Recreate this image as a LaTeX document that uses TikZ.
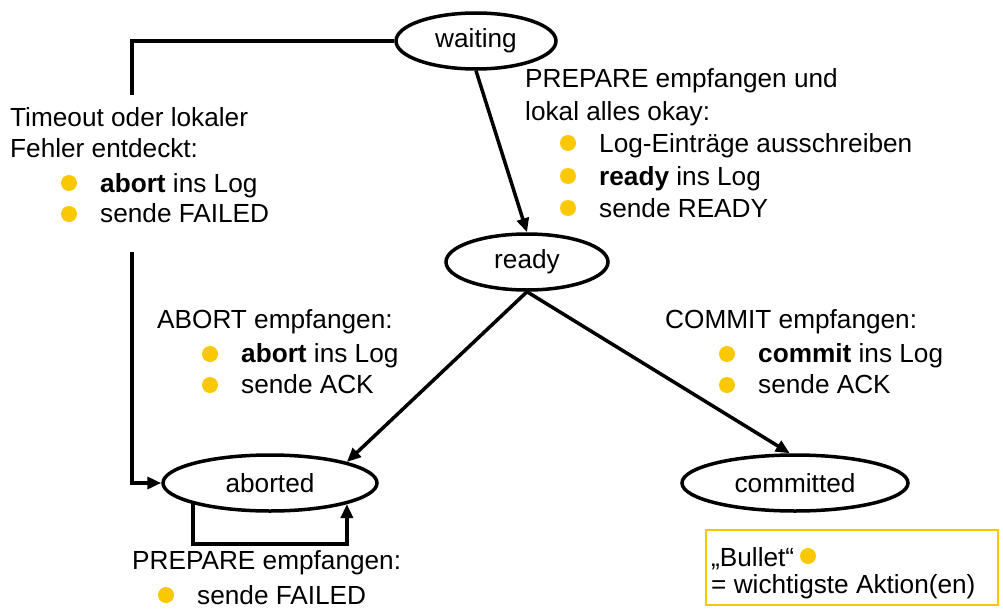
\documentclass[tikz,border=0pt]{standalone}
\usepackage{fontspec}
\setmainfont{Liberation Sans}
\usetikzlibrary{arrows.meta,shapes.geometric}
\definecolor{bulletyellow}{RGB}{250,200,0}
\tikzset{
  txt/.style={anchor=base west,inner sep=0pt,font=\fontsize{26.2}{30}\selectfont},
  state/.style={ellipse,draw,line width=3.5pt,inner sep=0pt,minimum height=56pt,font=\fontsize{26.2}{30}\selectfont},
  bul/.style={circle,fill=bulletyellow,minimum size=16pt,inner sep=0pt},
  conn/.style={line width=3.8pt},
  arr/.style={line width=3.5pt,-{Triangle[length=14pt,width=12pt]}},
}
\begin{document}
\begin{tikzpicture}[x=1pt,y=-1pt]
\useasboundingbox (0,0) rectangle (1003,610);

% states
\node[state,minimum width=160pt] (waiting) at (476,41) {waiting};
\node[state,minimum width=162pt] (ready) at (527,262) {ready};
\node[state,minimum width=214pt] (aborted) at (270,483) {aborted};
\node[state,minimum width=226pt] (committed) at (795,483) {committed};

% timeout path
\coordinate (t1) at (132,95);
\coordinate (t2) at (132,252);
\draw[conn] (waiting.west) -| (t1);
\draw[arr] (t2) |- (aborted.west);

% transitions
\draw[arr] (waiting.south) -- (ready.north);
\draw[arr] (ready.south) -- (aborted.north east);
\draw[arr] (ready.south) -- (committed.100);
\draw[arr] (aborted.south west) -- ++(0,40) -| (aborted.south east);

% left text
\node[txt] (l1) at (10,126) {Timeout oder lokaler};
\node[txt] (l2) at (10,157) {Fehler entdeckt:};
\node[bul] (lb1) at (69,183) {};
\node[txt] (l3) at (100,192) {\textbf{abort} ins Log};
\node[bul] (lb2) at (69,214) {};
\node[txt] (l4) at (100,222) {sende FAILED};

% top right text
\node[txt] (r1) at (525,87) {PREPARE empfangen und};
\node[txt] (r2) at (525,120) {lokal alles okay:};
\node[bul] (rb1) at (568,143) {};
\node[txt] (r3) at (599,152) {Log-Einträge ausschreiben};
\node[bul] (rb2) at (568,176) {};
\node[txt] (r4) at (599,185) {\textbf{ready} ins Log};
\node[bul] (rb3) at (568,208) {};
\node[txt] (r5) at (599,217) {sende READY};

% abort text
\node[txt] (a1) at (157,328) {ABORT empfangen:};
\node[bul] (ab1) at (210,354) {};
\node[txt] (a2) at (241,362) {\textbf{abort} ins Log};
\node[bul] (ab2) at (210,385) {};
\node[txt] (a3) at (241,393) {sende ACK};

% commit text
\node[txt] (c1) at (665,328) {COMMIT empfangen:};
\node[bul] (cb1) at (727,354) {};
\node[txt] (c2) at (758,362) {\textbf{commit} ins Log};
\node[bul] (cb2) at (727,385) {};
\node[txt] (c3) at (758,393) {sende ACK};

% bottom text
\node[txt] (p1) at (132,569) {PREPARE empfangen:};
\node[bul] (pb1) at (166,595) {};
\node[txt] (p2) at (197,604) {sende FAILED};

% legend
\node[draw=bulletyellow,line width=2.5pt,minimum width=292pt,minimum height=75pt,inner sep=0pt] (legend) at (852,567.5) {};
\node[txt] (g1) at (711,566) {„Bullet“};
\node[bul] (gb) at (808,556) {};
\node[txt] (g2) at (711,593) {= wichtigste Aktion(en)};
\end{tikzpicture}
\end{document}
